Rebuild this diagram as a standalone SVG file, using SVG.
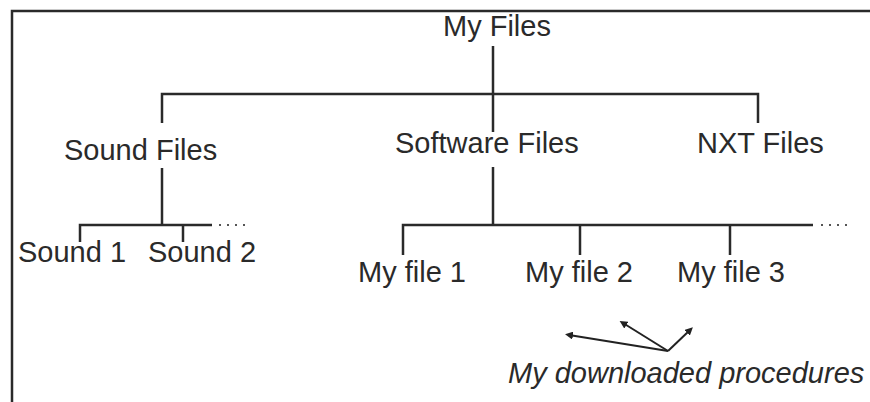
<svg xmlns="http://www.w3.org/2000/svg" width="870" height="402" viewBox="0 0 870 402">
<defs>
<style>
text{font-family:"Liberation Sans",Arial,sans-serif;font-size:29px;fill:#2a2a2a}
.it{font-style:italic}
.ln{stroke:#2a2a2a;stroke-width:2.5;fill:none}
.dot{stroke:#555;stroke-width:2;stroke-dasharray:2 6;fill:none}
.ar{stroke:#222;stroke-width:2;fill:none}
</style>
<marker id="ah" markerWidth="8" markerHeight="8" refX="4" refY="4" orient="auto" markerUnits="userSpaceOnUse">
<path d="M0,0 L8,4 L0,8 Z" fill="#222"/>
</marker>
</defs>
<rect width="870" height="402" fill="#fff"/>
<g id="frame">
<path class="ln" d="M12,402 V11 H870"/>
</g>
<g id="connectors">
<path class="ln" d="M493,46 V132"/>
<path class="ln" d="M162,123 V94 H758 V123"/>
<path class="ln" d="M162,168 V225"/>
<path class="ln" d="M80,242 V225 H212"/>
<path class="ln" d="M183,225 V242"/>
<path class="dot" d="M219,225 H246"/>
<path class="ln" d="M493,167 V225"/>
<path class="ln" d="M403,255 V225 H813"/>
<path class="ln" d="M580,225 V255"/>
<path class="ln" d="M730,225 V255"/>
<path class="dot" d="M821,225 H848"/>
<path class="ar" d="M668,351 L569,335" marker-end="url(#ah)"/>
<path class="ar" d="M668,351 L623,323" marker-end="url(#ah)"/>
<path class="ar" d="M668,351 L690,330" marker-end="url(#ah)"/>
</g>
<g id="my-files"><text x="443" y="36">My Files</text></g>
<g id="sound-files"><text x="64" y="160">Sound Files</text></g>
<g id="software-files"><text x="395" y="153">Software Files</text></g>
<g id="nxt-files"><text x="697" y="153">NXT Files</text></g>
<g id="sound-1"><text x="18" y="262">Sound 1</text></g>
<g id="sound-2"><text x="148" y="262">Sound 2</text></g>
<g id="my-file-1"><text x="358" y="282">My file 1</text></g>
<g id="my-file-2"><text x="525" y="282">My file 2</text></g>
<g id="my-file-3"><text x="677" y="282">My file 3</text></g>
<g id="downloaded"><text class="it" x="508" y="383">My downloaded procedures</text></g>
</svg>
